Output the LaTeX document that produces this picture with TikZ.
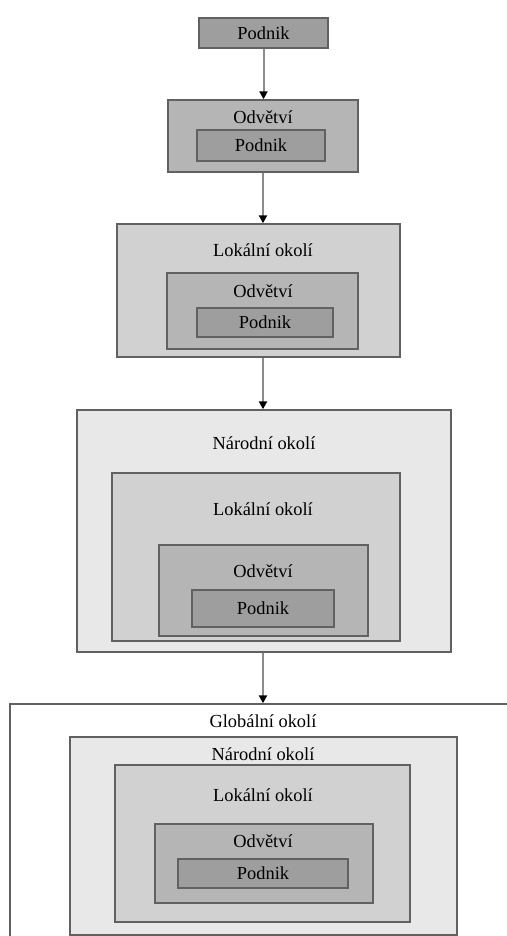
\documentclass[tikz,border=0pt]{standalone}
\usepackage{fontspec}
\setmainfont{Liberation Serif}
\usetikzlibrary{fit, arrows.meta}

\begin{document}
\begin{tikzpicture}[x=0.5pt, y=-0.5pt,
	box/.style={draw=black!62, line width=0.7pt, inner sep=0pt},
	podnik/.style={box, fill=black!38},
	odvetvi/.style={box, fill=black!29},
	lokalni/.style={box, fill=black!18},
	narodni/.style={box, fill=black!9},
	globalni/.style={box, fill=white},
	lbl/.style={font=\fontsize{9.2}{11}\selectfont},
	arr/.style={draw=black!45, line width=1pt, -{Triangle[black, length=4pt, width=4pt]}}]

	\useasboundingbox (0,0) rectangle (507,936);
	\clip (0,0) rectangle (507,936);

	% stage 1
	\node[podnik, fit={(199,18) (328,48)}] (p1) {};
	\node[lbl] (p1t) at (p1) {Podnik};

	% stage 2
	\node[odvetvi, fit={(168,100) (358,172)}] (o2) {};
	\node[lbl] (o2t) at (263,117) {Odvětví};
	\node[podnik, fit={(197,130) (325,161)}] (p2) {};
	\node[lbl] (p2t) at (p2) {Podnik};

	% stage 3
	\node[lokalni, fit={(117,224) (400,357)}] (l3) {};
	\node[lbl] (l3t) at (263,250) {Lokální okolí};
	\node[odvetvi, fit={(167,273) (358,349)}] (o3) {};
	\node[lbl] (o3t) at (263,291) {Odvětví};
	\node[podnik, fit={(197,308) (333,337)}] (p3) {};
	\node[lbl] (p3t) at (p3) {Podnik};

	% stage 4
	\node[narodni, fit={(77,410) (451,652)}] (n4) {};
	\node[lbl] (n4t) at (264,443) {Národní okolí};
	\node[lokalni, fit={(112,473) (400,641)}] (l4) {};
	\node[lbl] (l4t) at (263,509) {Lokální okolí};
	\node[odvetvi, fit={(159,545) (368,636)}] (o4) {};
	\node[lbl] (o4t) at (263,571) {Odvětví};
	\node[podnik, fit={(192,590) (334,627)}] (p4) {};
	\node[lbl] (p4t) at (p4) {Podnik};

	% stage 5
	\node[globalni, fit={(10,704) (540,980)}] (g5) {};
	\node[lbl] (g5t) at (263,721) {Globální okolí};
	\node[narodni, fit={(70,737) (457,935)}] (n5) {};
	\node[lbl] (n5t) at (263,754) {Národní okolí};
	\node[lokalni, fit={(115,765) (410,922)}] (l5) {};
	\node[lbl] (l5t) at (263,795) {Lokální okolí};
	\node[odvetvi, fit={(155,824) (373,903)}] (o5) {};
	\node[lbl] (o5t) at (263,841) {Odvětví};
	\node[podnik, fit={(178,859) (348,888)}] (p5) {};
	\node[lbl] (p5t) at (p5) {Podnik};

	\draw[arr] (p1.south) -- (p1.south |- o2.north);
	\draw[arr] (o2.south) -- (o2.south |- l3.north);
	\draw[arr] (o2.south |- l3.south) -- (o2.south |- n4.north);
	\draw[arr] (o2.south |- n4.south) -- (o2.south |- g5.north);

\end{tikzpicture}
\end{document}
